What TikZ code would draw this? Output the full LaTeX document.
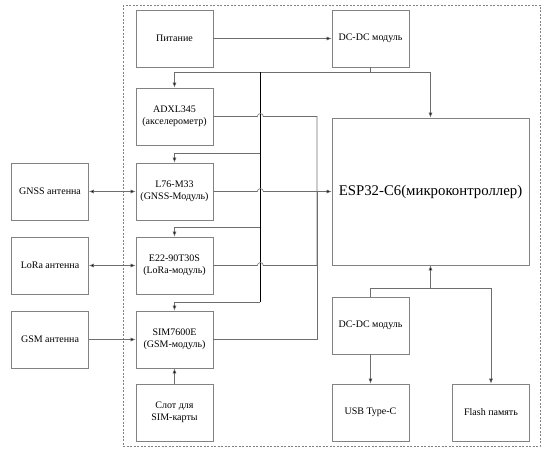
\documentclass[tikz,border=0pt]{standalone}
\usepackage{fontspec}
\setmainfont{Liberation Serif}
\usepackage{tikz}
\usetikzlibrary{arrows.meta,positioning,calc}
\usepackage{xcolor}
\definecolor{boxline}{RGB}{130,130,130}
\definecolor{wire}   {RGB}{110,110,110}
\tikzset{
  blk/.style  ={rectangle,draw=boxline,line width=0.7pt,
                 minimum width=77pt,minimum height=57pt,
                 align=center,inner sep=1pt,font=\fontsize{10}{12}\selectfont},
  mcu/.style  ={blk,minimum width=197pt,minimum height=147pt,
                 font=\fontsize{14.8}{17}\selectfont},
  ln/.style   ={draw=wire,line width=0.6pt},
  sig/.style  ={ln,-{Latex[length=5pt,width=4pt,fill=black]}},
  dsig/.style ={ln,{Latex[length=5pt,width=4pt,fill=black]}-{Latex[length=5pt,width=4pt,fill=black]}},
  bus/.style  ={draw=black,line width=1pt},
  frame/.style={draw=boxline,dash pattern=on 2pt off 1.5pt,line width=0.6pt},
  hop/.style  ={insert path={arc[start angle=180,end angle=0,radius=3pt]}},
}

\begin{document}
\begin{tikzpicture}[x=1pt,y=-1pt]
  \useasboundingbox (0,0) rectangle (551,452);
  \draw[frame] (123,5) rectangle (540,446);

  % left column
  \node[blk] (pit)  at (174.5,38.5)  {Питание};
  \node[blk] (adxl) at (174.5,116.5) {ADXL345\\(акселерометр)};
  \node[blk] (l76)  at (174.5,191.5) {L76-M33\\(GNSS-Модуль)};
  \node[blk] (e22)  at (174.5,265.5) {E22-90T30S\\(LoRa-модуль)};
  \node[blk] (sim)  at (174.5,339.5) {SIM7600E\\(GSM-модуль)};
  \node[blk] (slot) at (174.5,412.5) {Слот для\\SIM-карты};

  % antennas
  \node[blk] (gant) at (50,191.5) {GNSS антенна};
  \node[blk] (lant) at (50,265.5) {LoRa антенна};
  \node[blk] (mant) at (50,339.5) {GSM антенна};

  % right side
  \node[blk] (dcdc)  at (370.5,38.5)  {DC-DC модуль};
  \node[mcu] (esp)   at (430.5,191.5) {ESP32-C6(микроконтроллер)};
  \node[blk] (dcdc2) at (370.5,325.5) {DC-DC модуль};
  \node[blk] (usb)   at (370.5,412.5) {USB Type-C};
  \node[blk] (flash) at (491,412.5)   {Flash память};

  \coordinate (tp) at (370.5,72);
  \coordinate (bt) at (260,72);
  \coordinate (b1) at (260,153);
  \coordinate (b2) at (260,227);
  \coordinate (b3) at (260,302);
  \coordinate (dj) at (317,191.5);
  \coordinate (lt) at (370.5,288);

  % power
  \draw[sig] (pit) -- (dcdc);
  \draw[sig] (dcdc.south) -- (tp) -| (adxl.north);
  \draw[sig] (tp) -| (esp.north);
  \draw[bus] (bt) -- (b3);
  \draw[sig] (b1) -| (l76.north);
  \draw[sig] (b2) -| (e22.north);
  \draw[sig] (b3) -| (sim.north);

  % data to MCU
  \draw[ln]  (adxl.east) -- ++(44,0) [hop] -| (dj);
  \draw[sig] (l76.east) -- ++(44,0) [hop] -- (esp.west);
  \draw[ln]  (e22.east) -- ++(44,0) [hop] -| (dj);
  \draw[ln]  (sim.east) -| (dj);

  % antennas and SIM slot
  \draw[dsig] (gant) -- (l76);
  \draw[dsig] (lant) -- (e22);
  \draw[sig]  (mant) -- (sim);
  \draw[sig]  (slot) -- (sim);

  % lower right
  \draw[sig] (dcdc2.north) -- (lt) -| (flash.north);
  \draw[sig] (esp.south |- lt) -- (esp.south);
  \draw[sig] (dcdc2) -- (usb);
\end{tikzpicture}
\end{document}
